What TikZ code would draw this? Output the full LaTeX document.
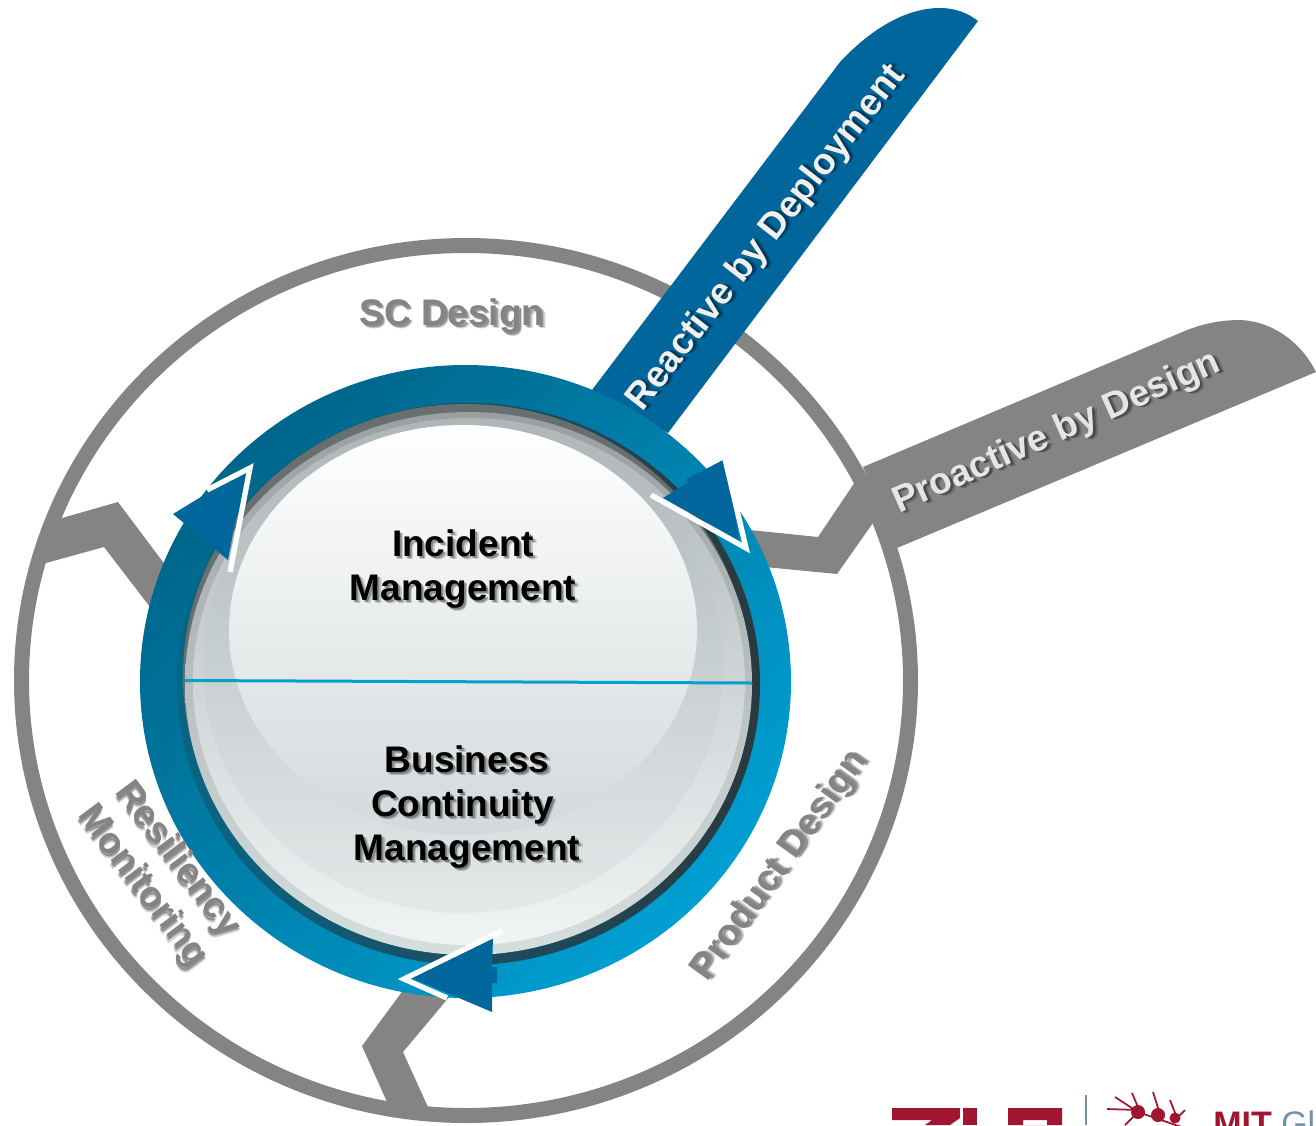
\documentclass[tikz,border=0pt]{standalone}
\usepackage{fontspec}
\setmainfont{Liberation Sans}
\tikzset{
  bigtext/.style={font=\fontsize{27.75}{33}\selectfont\bfseries,align=center,inner sep=0pt},
  whiteline/.style={white,line width=4pt,line join=miter,miter limit=4}
}
\newcommand{\shadowtext}[6]{
  \node [bigtext,text=#4,opacity=.18,rotate=#3,xshift=2.6pt,yshift=-2.6pt] (#1b) at (#2) {#6};
  \node [bigtext,text=#4,opacity=.3,rotate=#3,xshift=1.5pt,yshift=-1.5pt] (#1a) at (#2) {#6};
  \node [bigtext,text=#5,rotate=#3] (#1) at (#2) {#6};
}
\begin{document}
\begin{tikzpicture}[x=0.75pt,y=-0.75pt]
  \definecolor{ribbon}{HTML}{00669C}
  \definecolor{greyband}{HTML}{848484}
  \definecolor{ringo}{HTML}{00658A}
  \definecolor{ringi}{HTML}{009FD2}
  \definecolor{logored}{HTML}{A0152F}
  \definecolor{logoblue}{HTML}{6F93A8}
  \definecolor{rimteal}{HTML}{086585}
  \definecolor{rimdark}{HTML}{2B393F}
  \definecolor{rimgrey}{HTML}{686F6F}
  \definecolor{lineblue}{HTML}{00A0D2}
  \clip (0,0) rectangle (1316,1125);
  % outer ring and the grey bands
  \fill [greyband,even odd rule] (466,680.5) ellipse [x radius=452,y radius=442.5]
   (466,680.5) ellipse [x radius=437,y radius=427.5];
  \fill [greyband] (62,518) -- (118,502) -- (175,578) -- (160,620) -- (104,547) -- (46,563) -- (40,540) -- cycle;
  \fill [greyband] (407,985) -- (362,1046) -- (387,1102) -- (395,1115) -- (435,1115) -- (428,1107) -- (403,1052) -- (455,990) -- cycle;
  \fill [greyband] (740,529) -- (818,537) -- (855,482) -- (875,520) -- (837,574) -- (765,567) -- cycle;
  \fill [greyband] (863,467) -- (1180,333) .. controls (1200,324) and (1220,320) .. (1240,320)
   .. controls (1270,321) and (1300,340) .. (1316,372) -- (897,548) -- cycle;
  \fill [ribbon] (592,390) -- (840,62) .. controls (870,30) and (905,8) .. (940,8)
   .. controls (955,8) and (968,13) .. (978,21) -- (668,433) -- cycle;
  % blue ring
  \shade [top color=ringo,bottom color=ringi,shading angle=45] (465.5,681.5) ellipse [x radius=325.5,y radius=316.5];
  \shade [left color=rimteal,right color=rimdark] (468.5,684) ellipse [x radius=291.5,y radius=281];
  \fill [rimgrey] (466,676) ellipse [x radius=283,y radius=272];
  % disk, one layer over another
  \definecolor{diska}{HTML}{9A9FA0}
  \definecolor{diskb}{HTML}{A7ADAE}
  \definecolor{diskc}{HTML}{D5DFDE}
  \definecolor{diskd}{HTML}{AEB6B8}
  \definecolor{diske}{HTML}{BAC0C2}
  \definecolor{diskf}{HTML}{F0F4F5}
  \definecolor{diskg}{HTML}{C6CCCE}
  \definecolor{diskh}{HTML}{E3E9E9}
  \definecolor{diski}{HTML}{E4E8E9}
  \definecolor{diskj}{HTML}{D3D9DB}
  \shade [top color=diska,middle color=diskb,bottom color=diskc] (468.5,683.5) ellipse [x radius=283.5,y radius=271.5];
  \shade [top color=diskd,middle color=diske,bottom color=diskf] (469,681.5) ellipse [x radius=276,y radius=263.5];
  \shade [top color=diskd,middle color=diskg,bottom color=diskh] (463,666) ellipse [x radius=260,y radius=247];
  \shade [top color=white,middle color=diski,bottom color=diskj] (463,630) ellipse [x radius=234,y radius=205];
  \draw [lineblue,line width=2.25pt] (185,680.5) -- (752,683);
  % arrows
  \fill [ribbon] (725,459) -- (739,540) -- (663,498) -- (687,483) -- (687,478) -- (700,472) -- cycle;
  \draw [whiteline] (651,495) -- (746,548) -- (725,459);
  \fill [ribbon] (173,514) -- (245,470) -- (228,560) -- cycle;
  \draw [whiteline] (207,490) -- (250,468) -- (230,572);
  \fill [ribbon] (493,938) -- (492,967) -- (497,967) -- (497,983) -- (492,983) -- (492,1012) -- (412,978) -- cycle;
  \draw [whiteline] (502,931) -- (404,979) -- (447,998);
  % labels
  \shadowtext{incident}{463,569}{0}{black}{black}{Incident\\Management}
  \shadowtext{business}{467,807}{0}{black}{black}{Business\\Continuity\rule{6.75pt}{0pt}\\Management}
  \shadowtext{scdesign}{452,316}{0}{black}{greyband}{SC Design}
  \shadowtext{reactive}{767,238}{52}{black}{black!6}{Reactive by Deployment}
  \shadowtext{proactive}{1057,433}{23.9}{black}{black!10}{Proactive by Design}
  \shadowtext{product}{780,866}{54.3}{black}{greyband}{Product Design}
  \shadowtext{resiliency}{160,873}{-53}{black}{greyband}{Resiliency\\Monitoring}
  % logo, cut by the page
  \fill [logored] (892,1108) -- (960,1108) -- (960,1118) -- (950,1125) -- (925,1125) -- (932,1120) -- (892,1120) -- cycle;
  \fill [logored] (963,1108) rectangle (977,1125);
  \fill [logored,even odd rule] (1008,1108) rectangle (1062,1125) (1023,1120) rectangle (1047,1125);
  \draw [logoblue,line width=0.8pt] (1086,1095) -- (1086,1125);
  \fill [logored] (1138,1112) circle (7) (1158,1115) circle (7) (1175,1118) circle (5.5);
  \draw [logored,line width=1.3pt] (1115,1097) -- (1138,1112) (1107,1109) -- (1138,1110)
   (1132,1093) -- (1140,1112) (1153,1092) -- (1160,1114) (1170,1100) -- (1177,1118)
   (1185,1110) -- (1175,1120) (1138,1112) -- (1190,1130) (1138,1112) -- (1125,1125);
  \node [anchor=base west,inner sep=0pt,font=\fontsize{25.5}{30}\selectfont] (mit) at (1213,1135) {\textcolor{logored}{\bfseries MIT} \textcolor{logoblue}{Gl}};
\end{tikzpicture}
\end{document}
